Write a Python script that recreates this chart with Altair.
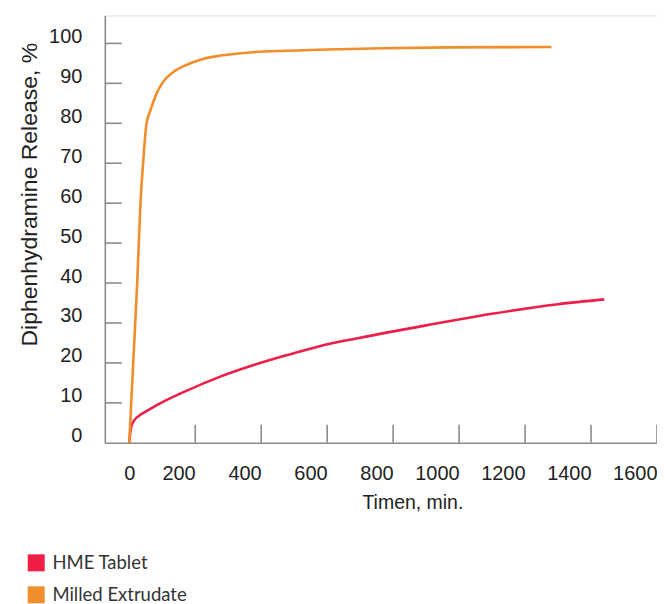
import altair as alt
import pandas as pd

# ---- data ----
series_names = ["HME Tablet", "Milled Extrudate"]
series_colors = ["#EE1E47", "#F18D2A"]

hme_time = [0, 2, 6, 15, 32, 52, 92, 173, 274, 375, 476, 577, 700, 900, 1100, 1300, 1440]
hme_release = [0, 1.8, 4.0, 5.6, 6.9, 7.9, 9.8, 13.0, 16.5, 19.4, 21.9, 24.2, 26.3, 29.4, 32.3, 34.7, 35.9]

milled_time = [0, 12, 24, 34, 42, 52, 64, 82, 102, 133, 173, 224, 274, 325, 395, 480, 570, 770, 970, 1280]
milled_release = [0, 20, 40, 60, 70, 79.8, 83.2, 87.3, 90.3, 92.8, 94.6, 96.1, 96.9, 97.4, 97.9, 98.15, 98.4, 98.8, 99.0, 99.1]

x_tick_values = [200, 400, 600, 800, 1000, 1200, 1400, 1600]
x_label_values = [0, 200, 400, 600, 800, 1000, 1200, 1400, 1600]
y_tick_values = [10, 20, 30, 40, 50, 60, 70, 80, 90, 100]
y_label_values = [0, 10, 20, 30, 40, 50, 60, 70, 80, 90, 100]

x_title = "Timen, min."
y_title = "Diphenhydramine Release, %"

# ---- tables ----
rows = []
for t, v in zip(hme_time, hme_release):
    rows.append({"series": series_names[0], "time": t, "release": v})
for t, v in zip(milled_time, milled_release):
    rows.append({"series": series_names[1], "time": t, "release": v})
df = pd.DataFrame(rows)

xt = pd.DataFrame({"v": x_tick_values})
yt = pd.DataFrame({"v": y_tick_values})
leg = pd.DataFrame({"series": series_names})

W, H = 553, 428
AXIS_GREY = "#8c8c8c"
TEXT = "#222222"
FONT = "Liberation Sans"

x_scale = alt.Scale(domain=[-74, 1600], nice=False, zero=False)
y_scale = alt.Scale(domain=[0, 107], nice=False, zero=False)
col_scale = alt.Scale(domain=series_names, range=series_colors)

x_axis = alt.Axis(
    values=x_label_values, format="d", grid=False, ticks=False, tickSize=0,
    domainColor=AXIS_GREY, domainWidth=1.6,
    labelFont=FONT, labelFontSize=20, labelColor=TEXT, labelPadding=21,
    labelAlign={"condition": {"test": "datum.value === 0", "value": "center"}, "value": "right"},
    labelBaseline="top", labelFlush=False, labelOverlap=False,
    title=x_title, titleFont=FONT, titleFontSize=19.5, titleFontWeight="normal",
    titleColor=TEXT, titleX=308, titleY=60, titleBaseline="middle", titleAlign="center",
)
y_axis = alt.Axis(
    values=y_label_values, format="d", grid=False, ticks=False, tickSize=0,
    domainColor=AXIS_GREY, domainWidth=1.6,
    labelFont=FONT, labelFontSize=20, labelColor=TEXT, labelPadding=23,
    labelBaseline="alphabetic", labelOffset=-1, labelAlign="right",
    labelFlush=False, labelOverlap=False,
    title=y_title, titleFont=FONT, titleFontSize=23, titleFontWeight="normal",
    titleColor=TEXT, titleX=-75, titleY=179, titleBaseline="middle", titleAlign="center",
    titleAngle=270,
)

the_legend = alt.Legend(
    orient="none", legendX=-78, legendY=539, direction="vertical",
    title=None, symbolType="square", symbolSize=289, symbolOpacity=1,
    symbolStrokeWidth=0, labelFont="Lato", labelFontSize=18.5,
    labelColor="#333333", labelOffset=7, rowPadding=13, padding=0,
)

legend_layer = alt.Chart(leg).mark_square(filled=True, size=0).encode(
    x=alt.value(0),
    y=alt.value(0),
    color=alt.Color("series:N", scale=col_scale, legend=the_legend),
)

lines = alt.Chart(df).mark_line(strokeWidth=2.6, interpolate="monotone").encode(
    x=alt.X("time:Q", scale=x_scale, axis=x_axis),
    y=alt.Y("release:Q", scale=y_scale, axis=y_axis),
    color=alt.Color("series:N", scale=col_scale, legend=the_legend),
    order=alt.Order("time:Q"),
)

x_ticks = alt.Chart(xt).mark_rule(color=AXIS_GREY, strokeWidth=1.6).encode(
    x=alt.X("v:Q", scale=x_scale),
    y=alt.value(H),
    y2=alt.value(H - 18),
)
y_ticks = alt.Chart(yt).mark_rule(color=AXIS_GREY, strokeWidth=1.6).encode(
    y=alt.Y("v:Q", scale=y_scale),
    x=alt.value(0),
    x2=alt.value(17),
)

chart = alt.layer(legend_layer, y_ticks, x_ticks, lines).properties(
    width=W, height=H,
    padding={"left": 97, "top": 7, "right": 0, "bottom": 161},
    autosize=alt.AutoSizeParams(type="none"),
).configure_view(stroke=None).configure(background="white")

chart.save("out.html", embed_options={"renderer": "svg", "actions": False})
